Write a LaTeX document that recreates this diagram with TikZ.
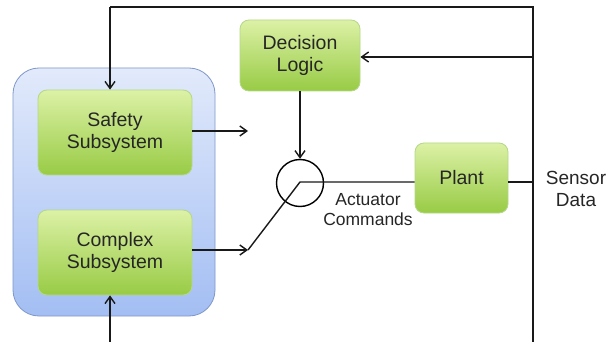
\documentclass[tikz,border=0pt]{standalone}
\usepackage{fontspec}
\setmainfont{Liberation Sans}
\usetikzlibrary{arrows.meta,calc}
\definecolor{grtop}{HTML}{DCF1A6}
\definecolor{grbot}{HTML}{98CB45}
\definecolor{grline}{HTML}{B5D888}
\definecolor{bltop}{HTML}{E2EAFB}
\definecolor{blbot}{HTML}{A3BEF3}
\definecolor{blline}{HTML}{7F98CA}
\tikzset{
  block/.style={draw=grline, line width=0.8pt, rounded corners=9pt,
    top color=grtop, bottom color=grbot, align=center,
    font=\fontsize{19.5}{22}\selectfont, text=black!85, inner sep=0pt},
  wire/.style={line width=1.4pt, draw=black!90},
  arr/.style={wire, -{Straight Barb[length=7pt,width=10pt,line width=1.4pt]}},
  lbl/.style={align=center, text=black!85},
}
\begin{document}
\begin{tikzpicture}[x=1pt,y=-1pt]
\useasboundingbox (0,0) rectangle (608,342);
\fill[white] (0,0) rectangle (608,342);

% container for the two subsystems
\node[draw=blline, line width=0.8pt, rounded corners=26pt,
  top color=bltop, bottom color=blbot, minimum width=202pt, minimum height=248pt]
  (group) at (114,192) {};

% blocks
\node[block, minimum width=154pt, minimum height=85pt] (safety) at (115,132.5) {Safety\\Subsystem};
\node[block, minimum width=154pt, minimum height=85pt] (complex) at (115,252.5) {Complex\\Subsystem};
\node[block, minimum width=120pt, minimum height=71pt] (decision) at (300,55.5) {Decision\\Logic};
\node[block, minimum width=93pt, minimum height=70pt] (plant) at (461.5,178) {Plant};

% switch
\node[draw, line width=1.4pt, circle, minimum size=47pt, inner sep=0pt] (sw) at (300,183) {};
\coordinate (pivot) at (300,182);
\coordinate (safeEnd) at (248,131);
\coordinate (cplxEnd) at (248,250);

% feedback loop corners
\coordinate (tl) at (110,7);
\coordinate (tr) at (533,7);
\coordinate (br) at (533,342);
\coordinate (bl) at (110,342);
\coordinate (fbDec) at (533,57);
\coordinate (fbPlant) at (533,182);

% connectors
\draw[arr] (safety.east |- safeEnd) -- (safeEnd);
\draw[arr] (complex.east |- cplxEnd) -- (cplxEnd);
\draw[wire] (cplxEnd) -- (pivot) -- (plant.west |- pivot);
\draw[arr] (decision.south) -- (sw.north);
\draw[wire] (plant.east |- fbPlant) -- (fbPlant);
\draw[wire] (tl) -- (tr) -- (br);
\draw[arr] (tl) -- (safety.north -| tl);
\draw[arr] (fbDec) -- (decision.east |- fbDec);
\draw[arr] (bl) -- (complex.south -| bl);

% labels
\node[lbl, font=\fontsize{17.5}{20}\selectfont] (act) at (368,210) {Actuator\\Commands};
\node[lbl, font=\fontsize{19}{22.5}\selectfont] (sensor) at (576,189) {Sensor\\Data};
\end{tikzpicture}
\end{document}
